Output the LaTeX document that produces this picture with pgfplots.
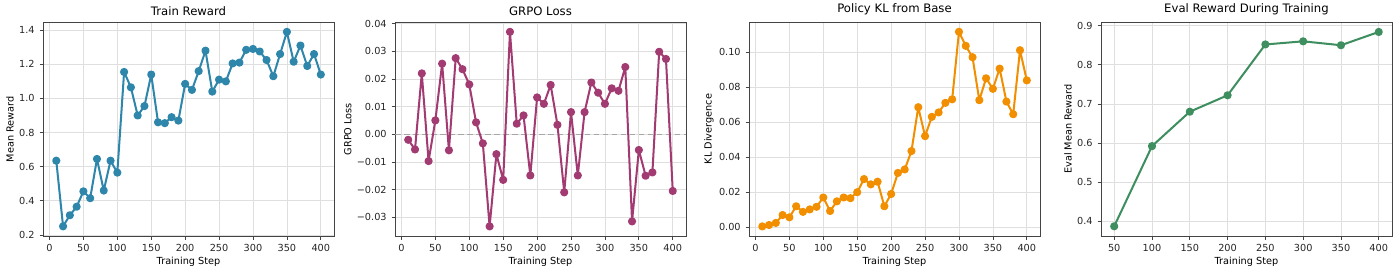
\documentclass[border=0pt]{standalone}
\usepackage{fontspec}
\setmainfont{DejaVu Sans}
\usepackage{pgfplots}
\pgfplotsset{compat=1.18}
\definecolor{cblue}{HTML}{2E86AB}
\definecolor{cmag}{HTML}{A23B72}
\definecolor{corange}{HTML}{F18F01}
\definecolor{cgreen}{HTML}{3E8E5F}
\definecolor{frame}{HTML}{444444}
\pgfplotsset{
  every axis/.style={
    scale only axis, width=209.5pt, height=154pt, anchor=south west,
    axis line style={frame, line width=0.6pt},
    xtick pos=bottom, ytick pos=left,
    tick align=outside, tick style={frame, line width=0.5pt},
    major tick length=2.5pt,
    grid=major, grid style={gray!25, line width=0.5pt},
    tick label style={font=\fontsize{7}{8}\selectfont, text=black!85},
    label style={font=\fontsize{7}{8}\selectfont},
    title style={font=\fontsize{8.4}{10}\selectfont, yshift=-4.5pt},
    /pgf/number format/assume math mode=true,
    scaled y ticks=false,
    xlabel={Training Step},
    xlabel style={yshift=3pt},
    ylabel style={yshift=-3pt},
    every axis plot/.append style={line width=1.45pt, line join=round, mark=*, mark size=2.2pt},
  }
}
\begin{document}
\begin{tikzpicture}
\useasboundingbox (0,0) rectangle (1008pt,196.56pt);
% Train Reward
\begin{axis}[at={(31pt,26.6pt)}, title={Train Reward}, ylabel={Mean Reward},
  xmin=-9.5, xmax=419.5, ymin=0.193, ymax=1.447,
  xtick={0,50,...,400}, ytick={0.2,0.4,...,1.4},
  yticklabel style={/pgf/number format/.cd, fixed, fixed zerofill, precision=1}]
\addplot[color=cblue, mark options={fill=cblue}] coordinates {
(10,0.635)(20,0.25)(30,0.315)(40,0.365)(50,0.455)(60,0.415)(70,0.645)(80,0.46)(90,0.635)(100,0.565)
(110,1.155)(120,1.065)(130,0.90)(140,0.955)(150,1.14)(160,0.86)(170,0.855)(180,0.89)(190,0.87)(200,1.085)
(210,1.05)(220,1.16)(230,1.28)(240,1.04)(250,1.11)(260,1.10)(270,1.205)(280,1.21)(290,1.285)(300,1.29)
(310,1.275)(320,1.225)(330,1.13)(340,1.26)(350,1.39)(360,1.215)(370,1.31)(380,1.19)(390,1.26)(400,1.14)};
\end{axis}
% GRPO Loss
\begin{axis}[at={(284.4pt,26.6pt)}, title={GRPO Loss}, ylabel={GRPO Loss},
  xmin=-9.5, xmax=419.5, ymin=-0.0368, ymax=0.0405,
  xtick={0,50,...,400}, ytick={-0.03,-0.02,-0.01,0,0.01,0.02,0.03,0.04},
  yticklabels={−0.03,−0.02,−0.01,0.00,0.01,0.02,0.03,0.04}]
\addplot[gray!70, line width=0.9pt, mark=none, dash pattern=on 4pt off 2.5pt] coordinates {(-9.5,0)(419.5,0)};
\addplot[color=cmag, mark options={fill=cmag}] coordinates {
(10,-0.002)(20,-0.0055)(30,0.022)(40,-0.0097)(50,0.005)(60,0.0255)(70,-0.0058)(80,0.0275)(90,0.0235)(100,0.018)
(110,0.0043)(120,-0.0033)(130,-0.0333)(140,-0.0072)(150,-0.0165)(160,0.037)(170,0.0038)(180,0.0068)(190,-0.0149)(200,0.0133)
(210,0.011)(220,0.0178)(230,0.0034)(240,-0.021)(250,0.008)(260,-0.0149)(270,0.008)(280,0.0187)(290,0.015)(300,0.011)
(310,0.0166)(320,0.0157)(330,0.0243)(340,-0.0315)(350,-0.0057)(360,-0.015)(370,-0.0138)(380,0.0298)(390,0.0272)(400,-0.0205)};
\end{axis}
% KL
\begin{axis}[at={(539.3pt,26.6pt)}, title={Policy KL from Base}, ylabel={KL Divergence},
  xmin=-9.5, xmax=419.5, ymin=-0.005, ymax=0.117,
  xtick={0,50,...,400}, ytick={0,0.02,0.04,0.06,0.08,0.10},
  yticklabel style={/pgf/number format/.cd, fixed, fixed zerofill, precision=2}]
\addplot[color=corange, mark options={fill=corange}] coordinates {
(10,0.0005)(20,0.0013)(30,0.0025)(40,0.007)(50,0.0057)(60,0.012)(70,0.0088)(80,0.0102)(90,0.0117)(100,0.017)
(110,0.0093)(120,0.0148)(130,0.017)(140,0.0166)(150,0.020)(160,0.0275)(170,0.0245)(180,0.026)(190,0.012)(200,0.019)
(210,0.031)(220,0.033)(230,0.0435)(240,0.0685)(250,0.052)(260,0.063)(270,0.0655)(280,0.071)(290,0.073)(300,0.1115)
(310,0.1035)(320,0.097)(330,0.0725)(340,0.085)(350,0.079)(360,0.0905)(370,0.0717)(380,0.0645)(390,0.101)(400,0.0838)};
\end{axis}
% Eval
\begin{axis}[at={(792.7pt,26.6pt)}, title={Eval Reward During Training}, ylabel={Eval Mean Reward},
  xmin=32.5, xmax=417.5, ymin=0.362, ymax=0.909,
  xtick={50,100,...,400}, ytick={0.4,0.5,...,0.9},
  yticklabel style={/pgf/number format/.cd, fixed, fixed zerofill, precision=1}]
\addplot[color=cgreen, mark options={fill=cgreen}] coordinates {
(50,0.387)(100,0.592)(150,0.68)(200,0.722)(250,0.852)(300,0.86)(350,0.85)(400,0.884)};
\end{axis}
\end{tikzpicture}
\end{document}
